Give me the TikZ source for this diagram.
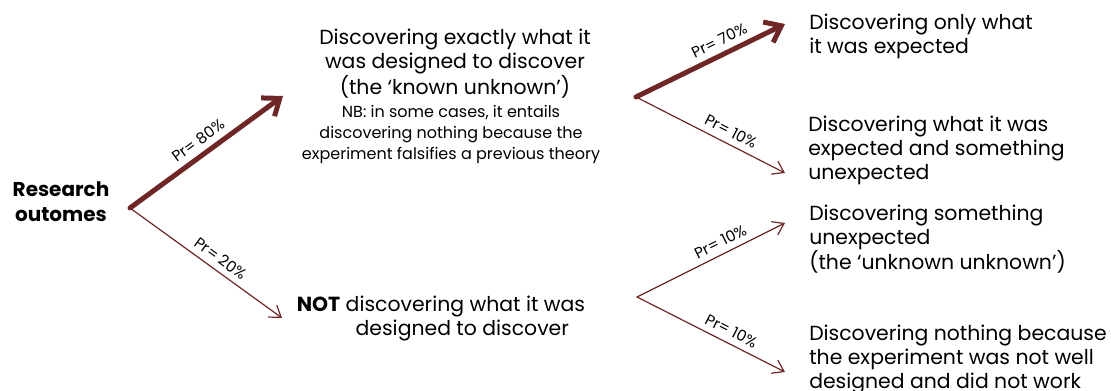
\documentclass[tikz,border=0pt]{standalone}
\usepackage{fontspec}
\setmainfont{Poppins}
\usetikzlibrary{arrows.meta}
\definecolor{branchred}{RGB}{110,38,38}
\begin{document}
\begin{tikzpicture}[x=0.75pt, y=-0.75pt, line join=round, line cap=round,
	big/.style={font=\fontsize{15.3}{18}\selectfont, inner sep=0pt},
	small/.style={font=\fontsize{12}{15.75}\selectfont, inner sep=0pt},
	outcome/.style={big, anchor=west, align=left},
	thickbranch/.style={draw=branchred, line width=3.75pt, -{Straight Barb[length=11pt,width=17pt]}},
	thinbranch/.style={draw=branchred, line width=0.9pt, -{Straight Barb[length=8pt,width=11pt]}},
	prob/.style={font=\fontsize{11.5}{13}\selectfont, sloped, above=4.5pt, pos=.6, inner sep=0pt}]
	\useasboundingbox (0,0) rectangle (1111,391);
	% branch points and arrow tips
	\coordinate (root) at (130,208);
	\coordinate (tip80) at (283,96);
	\coordinate (tip20) at (282,318);
	\coordinate (fork1) at (636,97);
	\coordinate (tip70) at (785,24);
	\coordinate (tip10a) at (785,173);
	\coordinate (fork2) at (637,297);
	\coordinate (tip10b) at (785,223);
	\coordinate (tip10c) at (785,372);
	% texts
	\path
	(61,202) node[align=center, inner sep=0pt, font={\fontsize{15}{18.75}\selectfont\bfseries}] (research) {Research\\outomes}
	(455,64) node[big, align=center] (known) {Discovering exactly what it\\was designed to discover\\(the ‘known unknown’)}
	(451,134) node[small, align=center] (nb) {NB: in some cases, it entails\\discovering nothing because the\\experiment falsifies a previous theory}
	(441,318) node[big, align=center] (notdisc) {\textbf{NOT} discovering what it was\\\hspace*{32pt}designed to discover}
	(809,36) node[outcome] (onlyexp) {Discovering only what\\it was expected}
	(808,150) node[outcome] (expunexp) {Discovering what it was\\expected and something\\unexpected}
	(809,239) node[outcome] (unexp) {Discovering something\\unexpected\\(the ‘unknown unknown’)}
	(809,359) node[outcome] (nothing) {Discovering nothing because\\the experiment was not well\\designed and did not work};
	% branches
	\draw[thickbranch] (root) -- node[prob, pos=.5] (pr80) {Pr= 80\%} (tip80);
	\draw[thinbranch] (root) -- node[prob, pos=.55] (pr20) {Pr= 20\%} (tip20);
	\draw[thickbranch] (fork1) -- node[prob] (pr70) {Pr= 70\%} (tip70);
	\draw[thinbranch] (fork1) -- node[prob] (pr10a) {Pr= 10\%} (tip10a);
	\draw[thinbranch] (fork2) -- node[prob] (pr10b) {Pr= 10\%} (tip10b);
	\draw[thinbranch] (fork2) -- node[prob] (pr10c) {Pr= 10\%} (tip10c);
\end{tikzpicture}
\end{document}
